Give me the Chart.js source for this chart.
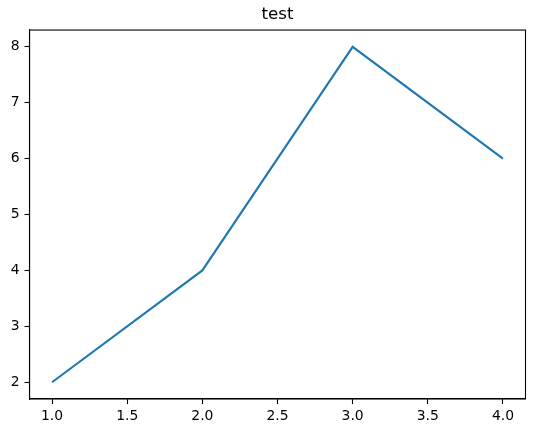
<!DOCTYPE html>
<html>
<head>
<meta charset="utf-8">
<script src="https://cdn.jsdelivr.net/npm/chart.js@4/dist/chart.umd.min.js"></script>
<style>
  body { margin: 0; background: #fff; }
  canvas { display: block; }
</style>
</head>
<body>
<canvas id="myChart" width="534" height="433"></canvas>
<script>
Chart.defaults.font.family = 'DejaVu Sans';
Chart.defaults.color = '#000';

// data
const xValues = [1, 2, 3, 4];
const yValues = [2, 4, 8, 6];
const xTicks = [1.0, 1.5, 2.0, 2.5, 3.0, 3.5, 4.0];
const yTicks = [2, 3, 4, 5, 6, 7, 8];

// frame on all four sides, like matplotlib's spines
const frame = {
    id: 'frame',
    afterDatasetsDraw(chart) {
        const a = chart.chartArea;
        const ctx = chart.ctx;
        ctx.save();
        ctx.strokeStyle = '#000';
        ctx.lineWidth = 1.1;
        ctx.strokeRect(a.left, a.top, a.right - a.left, a.bottom - a.top);
        ctx.restore();
    }
};

const ctx = document.getElementById('myChart');

const myChart = new Chart(ctx, {
    type: 'line',
    data: {
        datasets: [
            {
                label: 'test',
                data: xValues.map((x, i) => ({ x: x, y: yValues[i] })),
                borderColor: '#1f77b4',
                borderWidth: 2.1,
                pointRadius: 0,
                fill: false,
                tension: 0
            }
        ]
    },
    options: {
        responsive: false,
        animation: false,
        layout: {
            padding: { left: 0, right: 8.5, top: 0, bottom: 0 }
        },
        scales: {
            x: {
                type: 'linear',
                min: 0.85,
                max: 4.15,
                afterBuildTicks: function (axis) {
                    axis.ticks = xTicks.map(v => ({ value: v }));
                },
                afterFit: function (axis) {
                    axis.height = 34;
                },
                grid: {
                    drawOnChartArea: false,
                    drawTicks: true,
                    tickLength: 5,
                    tickColor: '#000',
                    tickWidth: 1.1
                },
                border: { color: '#000', width: 1.1 },
                ticks: {
                    padding: 4,
                    maxRotation: 0,
                    autoSkip: false,
                    font: { size: 13.9 },
                    callback: function (value) {
                        return value.toFixed(1);
                    }
                }
            },
            y: {
                type: 'linear',
                min: 1.7,
                max: 8.3,
                afterBuildTicks: function (axis) {
                    axis.ticks = yTicks.map(v => ({ value: v }));
                },
                afterFit: function (axis) {
                    axis.width = 29.5;
                },
                grid: {
                    drawOnChartArea: false,
                    drawTicks: true,
                    tickLength: 5,
                    tickColor: '#000',
                    tickWidth: 1.1
                },
                border: { color: '#000', width: 1.1 },
                ticks: {
                    padding: 5,
                    autoSkip: false,
                    font: { size: 13.9 },
                    callback: function (value) {
                        return String(value);
                    }
                }
            }
        },
        plugins: {
            legend: { display: false },
            tooltip: { enabled: false },
            title: {
                display: true,
                fullSize: false,
                text: 'test',
                color: '#000',
                font: { size: 16.7, weight: 'normal' },
                padding: { top: 4.5, bottom: 5.5 }
            }
        }
    },
    plugins: [frame]
});
</script>
</body>
</html>
